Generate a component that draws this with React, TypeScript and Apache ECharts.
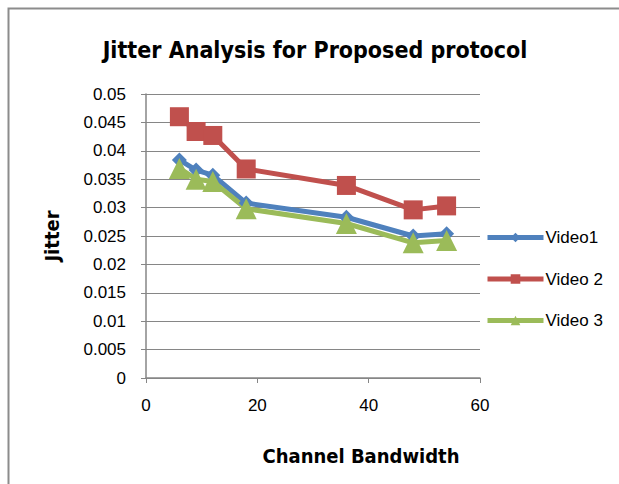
import React, { useEffect, useRef } from "react";
import * as echarts from "echarts";

const bandwidth = [6, 9, 12, 18, 36, 48, 54];
const video1 = [0.0384, 0.0366, 0.0357, 0.0308, 0.0283, 0.025, 0.0254];
const video2 = [0.046, 0.0434, 0.0427, 0.0368, 0.0339, 0.0296, 0.0303];
const video3 = [0.0369, 0.035, 0.0346, 0.0298, 0.0272, 0.0238, 0.0242];
const seriesNames = ["Video1", "Video 2", "Video 3"];
const colors = ["#4F81BD", "#C0504D", "#9BBB59"];
const symbols = ["diamond", "rect", "triangle"];
const symbolSizes = [15, 19, 21];

const FONT = "'Liberation Sans Narrow', 'DejaVu Sans Condensed', 'Liberation Sans', sans-serif";
const LABEL_FONT = "'Liberation Sans', sans-serif";

export default function App() {
  const ref = useRef<HTMLDivElement>(null);
  useEffect(() => {
    if (!ref.current) return;
    const chart = echarts.init(ref.current, undefined, { renderer: "svg" });
    const datasets = [video1, video2, video3];
    chart.setOption({
      animation: false,
      backgroundColor: "#ffffff",
      title: {
        text: "Jitter Analysis for Proposed protocol",
        left: 310,
        top: 33,
        textAlign: "center",
        textStyle: { fontFamily: FONT, fontWeight: "bold", fontSize: 23, color: "#000" },
      },
      graphic: [
        {
          type: "rect",
          shape: { x: 8.5, y: 8.5, width: 700, height: 600 },
          style: { fill: "none", stroke: "#8c8c8c", lineWidth: 2 },
          silent: true,
          z: -1,
        },
      ],
      grid: { left: 146, right: 139, top: 94, bottom: 106 },
      legend: {
        orient: "vertical",
        left: 480,
        top: 224,
        itemWidth: 56,
        itemHeight: 12,
        itemGap: 24.5,
        lineStyle: { width: 5 },
        textStyle: { fontFamily: LABEL_FONT, fontSize: 17, color: "#000", padding: [0, 0, 0, -3] },
        data: seriesNames,
      },
      xAxis: {
        type: "value",
        min: 0,
        max: 60,
        interval: 20,
        name: "Channel Bandwidth",
        nameLocation: "middle",
        nameGap: 68,
        nameTextStyle: { fontFamily: FONT, fontWeight: "bold", fontSize: 20, color: "#000", padding: [0, 0, 0, 96] },
        axisLine: { lineStyle: { color: "#868686", width: 1.5 } },
        axisTick: { show: true, length: 5, lineStyle: { color: "#868686" } },
        axisLabel: { fontFamily: LABEL_FONT, fontSize: 17, color: "#000", margin: 19 },
        splitLine: { show: false },
      },
      yAxis: {
        type: "value",
        min: 0,
        max: 0.05,
        interval: 0.005,
        name: "Jitter",
        nameLocation: "middle",
        nameGap: 84,
        nameRotate: 90,
        nameTextStyle: { fontFamily: FONT, fontWeight: "bold", fontSize: 20, color: "#000" },
        axisLine: { show: true, lineStyle: { color: "#868686", width: 1.5 } },
        axisTick: { show: true, length: 5, lineStyle: { color: "#868686" } },
        axisLabel: { fontFamily: LABEL_FONT, fontSize: 17, color: "#000", margin: 20 },
        splitLine: { show: true, lineStyle: { color: "#868686", width: 1.2 } },
      },
      series: datasets.map((d, i) => ({
        name: seriesNames[i],
        type: "line",
        data: bandwidth.map((x, j) => [x, d[j]]),
        symbol: symbols[i],
        symbolSize: symbolSizes[i],
        showAllSymbol: true,
        lineStyle: { color: colors[i], width: 5 },
        itemStyle: { color: colors[i], borderWidth: 0 },
      })),
    });
    return () => chart.dispose();
  }, []);
  return (
    <div
      ref={ref}
      style={{ position: "fixed", left: 0, top: 0, width: 619, height: 484 }}
    />
  );
}
